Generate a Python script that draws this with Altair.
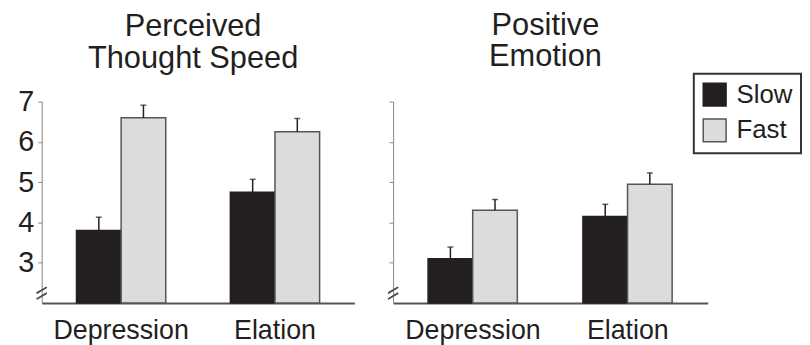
import altair as alt
import pandas as pd

panels = ["Perceived Thought Speed", "Positive Emotion"]
panel_titles = [["Perceived", "Thought Speed"], ["Positive", "Emotion"]]
conditions = ["Depression", "Elation"]
speeds = ["Slow", "Fast"]

# means per panel: [Depression, Elation]
slow_means = {"Perceived Thought Speed": [3.8, 4.75], "Positive Emotion": [3.1, 4.15]}
fast_means = {"Perceived Thought Speed": [6.6, 6.25], "Positive Emotion": [4.3, 4.95]}
slow_se = {"Perceived Thought Speed": [0.33, 0.32], "Positive Emotion": [0.29, 0.30]}
fast_se = {"Perceived Thought Speed": [0.31, 0.33], "Positive Emotion": [0.27, 0.28]}

y_ticks = [3, 4, 5, 6, 7]
y_domain = [2, 7]

rows = []
for p in panels:
    for i, c in enumerate(conditions):
        rows.append({"panel": p, "condition": c, "speed": "Slow",
                     "mean": slow_means[p][i], "upper": slow_means[p][i] + slow_se[p][i]})
        rows.append({"panel": p, "condition": c, "speed": "Fast",
                     "mean": fast_means[p][i], "upper": fast_means[p][i] + fast_se[p][i]})
df = pd.DataFrame(rows)

TXT = "#231f20"
fill_scale = alt.Scale(domain=speeds, range=["#231f20", "#dcdcdc"])
stroke_scale = alt.Scale(domain=speeds, range=["#231f20", "#555555"])
legend = alt.Legend(title=None, orient="none", legendX=657, legendY=-28,
                    symbolType="square", symbolSize=529, labelFontSize=26,
                    rowPadding=6, padding=8, strokeColor="#333333",
                    fillColor="white", symbolStrokeWidth=1.5, labelColor=TXT,
                    labelOffset=9)


def make_panel(pname, ptitle, show_labels, width, offset):
    d = df[df["panel"] == pname]
    x = alt.X("condition:N", sort=conditions,
              scale=alt.Scale(paddingInner=0.42, paddingOuter=0.226),
              axis=alt.Axis(title=None, labelAngle=0, labelFontSize=27, labelPadding=15,
                            ticks=False, domainColor="#555555", domainWidth=2,
                            labelColor=TXT))
    xo = alt.XOffset("speed:N", sort=speeds, scale=alt.Scale(paddingInner=0, paddingOuter=0))
    yscale = alt.Scale(domain=y_domain, nice=False, zero=False)
    y = alt.Y("mean:Q", scale=yscale,
              axis=alt.Axis(values=y_ticks, title=None, grid=False, labels=show_labels,
                            labelFontSize=29, tickSize=4, domainColor="#888888",
                            tickColor="#888888", labelColor=TXT, labelPadding=4))
    base = alt.Chart(d)
    bars = base.mark_bar(strokeWidth=1.5).encode(
        x=x, xOffset=xo, y=y, y2=alt.Y2(datum=2),
        fill=alt.Fill("speed:N", scale=fill_scale, legend=legend, sort=speeds),
        stroke=alt.Stroke("speed:N", scale=stroke_scale, legend=legend, sort=speeds),
    )
    err = base.mark_rule(color="#231f20", strokeWidth=1.5).encode(
        x=alt.X("condition:N", sort=conditions), xOffset=alt.XOffset("speed:N", sort=speeds),
        y="mean:Q", y2="upper:Q")
    cap = base.mark_tick(color="#231f20", thickness=1.5, size=6).encode(
        x=alt.X("condition:N", sort=conditions), xOffset=alt.XOffset("speed:N", sort=speeds),
        y="upper:Q")
    brk1 = base.mark_rule(color="#555555", strokeWidth=1.2).encode(
        x=alt.value(-5), x2=alt.value(5), y=alt.value(193), y2=alt.value(187))
    brk2 = base.mark_rule(color="#555555", strokeWidth=1.2).encode(
        x=alt.value(-5), x2=alt.value(5), y=alt.value(199), y2=alt.value(193))
    return alt.layer(bars, err, cap, brk1, brk2).properties(
        width=width, height=203,
        title=alt.TitleParams(ptitle, fontSize=31, fontWeight="normal", lineHeight=32,
                              offset=offset, anchor="middle", color=TXT, frame="group", dx=-5),
    )


left = make_panel(panels[0], panel_titles[0], True, 315, 13)
right = make_panel(panels[1], panel_titles[1], False, 317, 28)

chart = alt.hconcat(left, right, spacing=33).properties(
    padding={"left": 9, "top": 0, "right": 0, "bottom": 0}
).configure(font="Liberation Sans").configure_view(stroke=None).configure_legend(strokeWidth=2)

chart.save("out.html", embed_options={"renderer": "svg", "actions": False})
